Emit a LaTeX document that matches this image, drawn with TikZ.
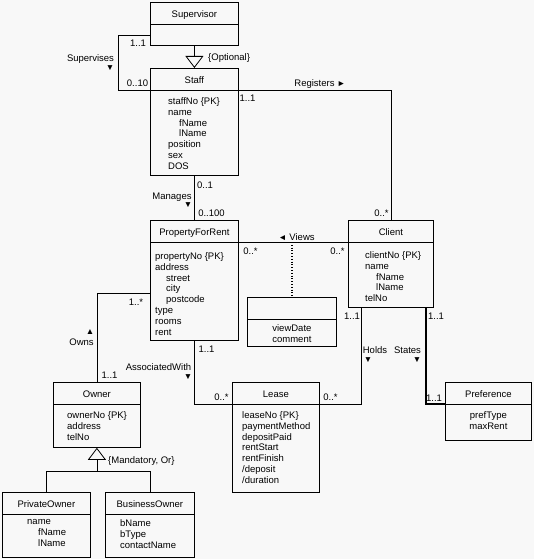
\documentclass[tikz,border=0pt]{standalone}
\usepackage{fontspec}
\setmainfont{Liberation Sans}
\usetikzlibrary{arrows.meta,shadows}
\definecolor{umlbg}{HTML}{F8F8F8}
\newcommand{\umlfont}{\fontsize{9.5}{10.8}\selectfont}
\newcommand{\dirsz}{\fontsize{8.5}{8.5}\selectfont}
\newcommand{\ind}{\hspace*{11pt}}
\tikzset{
  cls/.style={rectangle, draw=black, line width=0.8pt, fill=umlbg, inner sep=0pt,
    drop shadow={shadow xshift=0.9pt, shadow yshift=-0.9pt, opacity=1, fill=black}},
  ttl/.style={inner sep=0pt, text height=6.8pt, text depth=0pt, font=\umlfont},
  attr/.style={inner sep=0pt, align=left, anchor=north west, font=\umlfont,
    execute at begin node={\rule{0pt}{7pt}}},
  attrc/.style={attr, align=center, anchor=north},
  lbl/.style={inner sep=0pt, text height=6.8pt, text depth=0pt, font=\umlfont},
  dirmark/.style={inner sep=0pt, font=\dirsz},
  assoc/.style={line width=0.8pt, draw=black},
  gen/.style={assoc, -{Triangle[open, length=12pt, width=18pt]}},
}
% class box: name, north west corner, width, height, title
\newcommand{\classbox}[5]{%
  \node[cls, minimum width=#3, minimum height=#4, anchor=north west] (#1) at (#2) {};
  \node[ttl] (#1-t) at ([yshift=-12pt]#1.north) {#5};
  \coordinate (#1-dl) at ([yshift=-22pt]#1.north west);
  \coordinate (#1-dr) at ([yshift=-22pt]#1.north east);
  \draw[assoc] (#1-dl) -- (#1-dr);
}

\begin{document}
\begin{tikzpicture}[x=1pt, y=-1pt]
    \fill[umlbg] (0,0) rectangle (534,559);
    \useasboundingbox (0,0) rectangle (534,559);

    % classes
    \classbox{sup}{150,2}{88pt}{43pt}{Supervisor}
    \classbox{staff}{150,68}{88pt}{107pt}{Staff}
    \node[attr] (staff-a) at ([xshift=18pt,yshift=-29.4pt]staff.north west)
      {staffNo \{PK\}\\ name\\ \ind fName\\ \ind lName\\ position\\ sex\\ DOS};

    \classbox{pfr}{150,220}{88pt}{120pt}{PropertyForRent}
    \node[attr] (pfr-a) at ([xshift=5pt,yshift=-32.4pt]pfr.north west)
      {propertyNo \{PK\}\\ address\\ \ind street\\ \ind city\\ \ind postcode\\ type\\ rooms\\ rent};

    \classbox{client}{348,220}{85pt}{87pt}{Client}
    \node[attr] (client-a) at ([xshift=17pt,yshift=-31.4pt]client.north west)
      {clientNo \{PK\}\\ name\\ \ind fName\\ \ind lName\\ telNo};

    \classbox{vd}{247,297}{89pt}{49pt}{}
    \node[attrc] (vd-a) at ([yshift=-27.4pt]vd.north) {viewDate\\ comment};

    \classbox{owner}{53,382}{87pt}{65pt}{Owner}
    \node[attr] (owner-a) at ([xshift=14pt,yshift=-29.4pt]owner.north west)
      {ownerNo \{PK\}\\ address\\ telNo};

    \classbox{lease}{232,382}{87pt}{110pt}{Lease}
    \node[attr] (lease-a) at ([xshift=10pt,yshift=-29.4pt]lease.north west)
      {leaseNo \{PK\}\\ paymentMethod\\ depositPaid\\ rentStart\\ rentFinish\\ /deposit\\ /duration};

    \classbox{pref}{445,382}{86pt}{58pt}{Preference}
    \node[attrc] (pref-a) at ([yshift=-29.4pt]pref.north) {prefType\\ maxRent};

    \classbox{po}{2,492}{88pt}{65pt}{PrivateOwner}
    \node[attr] (po-a) at ([xshift=25pt,yshift=-27.4pt]po.north west)
      {name\\ \ind fName\\ \ind lName};

    \classbox{bo}{105,492}{89pt}{65pt}{BusinessOwner}
    \node[attr] (bo-a) at ([xshift=15pt,yshift=-27.4pt]bo.north west)
      {bName\\ bType\\ contactName};

    % connectors
    \coordinate (supv) at (118,35);
    \coordinate (ownsy) at (0,293);
    \coordinate (ojoin) at ([yshift=-24pt]owner.south);
    \draw[assoc] (supv -| sup.west) -- (supv) |- (staff-dl);
    \draw[gen] (sup.south) -- (staff.north);
    \draw[assoc] (staff-dr) -| (client.north);
    \draw[assoc] (staff.south) -- (pfr.north);
    \draw[assoc] (pfr-dr) -- (client-dl);
    \draw[assoc, dotted, line width=1.6pt] (pfr-dr -| vd.north) -- (vd.north);
    \draw[assoc] (ownsy -| pfr.west) -| (owner.north);
    \draw[assoc] (pfr.south) |- (lease-dl);
    \draw[assoc] (lease-dr) -| ([xshift=13pt]client.south west);
    \draw[assoc, line width=1.6pt] ([xshift=-8pt]client.south east) |- (pref-dl);
    \draw[gen] (ojoin) -- (owner.south);
    \draw[assoc] (po.north) |- (ojoin) -| (bo.north);

    % labels
    \node[lbl] (sv-n) at (90.5,58) {Supervises};
    \node[dirmark] (sv-d) at (110,68) {▼};
    \node[lbl] (sv-m1) at (138,43) {1..1};
    \node[lbl] (sv-m2) at (137.5,83) {0..10};
    \node[lbl, anchor=west] (gen-sup) at (208,57) {\{Optional\}};
    \node[lbl] (rg-n) at (320,83) {Registers {\dirsz ►}};
    \node[lbl] (rg-m1) at (247.5,98) {1..1};
    \node[lbl] (rg-m2) at (381.5,213) {0..*};
    \node[lbl] (mg-m1) at (205,185) {0..1};
    \node[lbl] (mg-n) at (172,196) {Manages};
    \node[dirmark] (mg-d) at (188,205) {▼};
    \node[lbl] (mg-m2) at (211.5,213) {0..100};
    \node[lbl] (vw-n) at (296.5,237) {{\dirsz ◄} Views};
    \node[lbl] (vw-m1) at (250.5,251) {0..*};
    \node[lbl] (vw-m2) at (337.5,251) {0..*};
    \node[lbl] (ow-m1) at (136,302) {1..*};
    \node[dirmark] (ow-d) at (90,332) {▲};
    \node[lbl] (ow-n) at (81.5,342) {Owns};
    \node[lbl] (ow-m2) at (109.5,375) {1..1};
    \node[lbl] (aw-m1) at (206.5,349) {1..1};
    \node[lbl] (aw-n) at (158.5,367) {AssociatedWith};
    \node[dirmark] (aw-d) at (188,377) {▼};
    \node[lbl] (aw-m2) at (221.5,397) {0..*};
    \node[lbl] (hd-m2) at (330.5,397) {0..*};
    \node[lbl] (hd-m1) at (352,316) {1..1};
    \node[lbl] (hd-n) at (375,350) {Holds};
    \node[dirmark] (hd-d) at (368,360) {▼};
    \node[lbl] (st-m1) at (436,316) {1..1};
    \node[lbl] (st-n) at (407.5,350) {States};
    \node[dirmark] (st-d) at (417,360) {▼};
    \node[lbl] (st-m2) at (434,398) {1..1};
    \node[lbl, anchor=west] (gen-own) at (108,460) {\{Mandatory, Or\}};
\end{tikzpicture}
\end{document}
